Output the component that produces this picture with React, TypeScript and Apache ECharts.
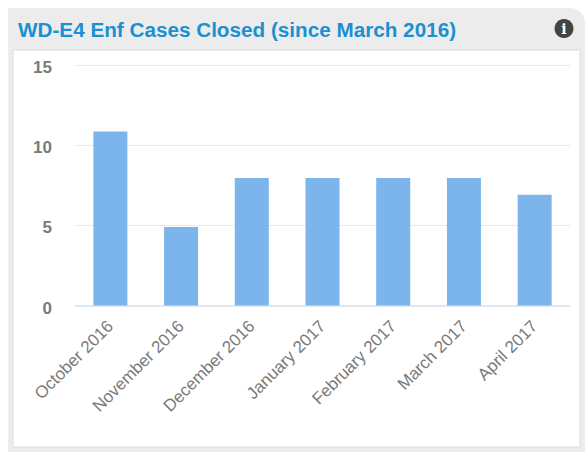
import React, { useEffect, useRef } from "react";
import * as echarts from "echarts";

const categories = ["October 2016", "November 2016", "December 2016", "January 2017", "February 2017", "March 2017", "April 2017"];
const values = [10.85, 4.9, 7.95, 7.95, 7.95, 7.95, 6.9];
const yTicks = { min: 0, max: 15, interval: 5 };
const titleText = "WD-E4 Enf Cases Closed (since March 2016)";

export default function App() {
  const ref = useRef<HTMLDivElement>(null);
  useEffect(() => {
    document.body.style.margin = "0";
    document.body.style.background = "#ffffff";
    const chart = echarts.init(ref.current!, undefined, { renderer: "svg" });
    chart.setOption({
      animation: false,
      backgroundColor: "#ffffff",
      title: {
        text: titleText,
        left: 13,
        top: 14,
        textStyle: { color: "#1a90d2", fontSize: 20.7, fontWeight: "bold", fontFamily: "Liberation Sans" },
      },
      grid: { left: 75, right: 15, top: 65, bottom: 147.5, containLabel: false },
      xAxis: {
        type: "category",
        data: categories,
        axisTick: { show: false },
        axisLine: { lineStyle: { color: "#dbe3f2", width: 1.5 } },
        axisLabel: { rotate: 45, color: "#7a7a7a", fontSize: 17, fontFamily: "Liberation Sans", margin: 18, interval: 0 },
      },
      yAxis: {
        type: "value",
        min: yTicks.min,
        max: yTicks.max,
        interval: yTicks.interval,
        axisLine: { show: false },
        axisTick: { show: false },
        splitLine: { lineStyle: { color: "#e8e8e8", width: 1 } },
        axisLabel: {
          margin: 23,
          formatter: (v: number) => `{n|${v}}`,
          rich: {
            n: { color: "#7a7a7a", fontSize: 17, fontWeight: "bold", fontFamily: "Liberation Sans", padding: [5, 0, 0, 0] },
          },
        },
      },
      series: [
        {
          type: "bar",
          data: values,
          barWidth: 34,
          itemStyle: { color: "#7cb5ec" },
        },
      ],
      graphic: [
        {
          type: "rect",
          z: -10,
          silent: true,
          shape: { x: 8, y: 8, width: 577, height: 444, r: [0, 15, 0, 0] },
          style: { fill: "#ececec" },
        },
        {
          type: "rect",
          z: -9,
          silent: true,
          shape: { x: 13, y: 50, width: 567, height: 397 },
          style: { fill: "#ffffff", stroke: "#dcdcdc", lineWidth: 1 },
        },
        {
          type: "circle",
          z: 5,
          silent: true,
          shape: { cx: 564, cy: 28.5, r: 9.5 },
          style: { fill: "#444444" },
        },
        {
          type: "text",
          z: 6,
          silent: true,
          x: 564,
          y: 28.5,
          style: { text: "i", fill: "#ffffff", fontSize: 14, fontWeight: "bold", fontFamily: "DejaVu Serif", align: "center", verticalAlign: "middle" },
        },
      ],
    });
    return () => chart.dispose();
  }, []);
  return <div ref={ref} style={{ width: 585, height: 453 }} />;
}
